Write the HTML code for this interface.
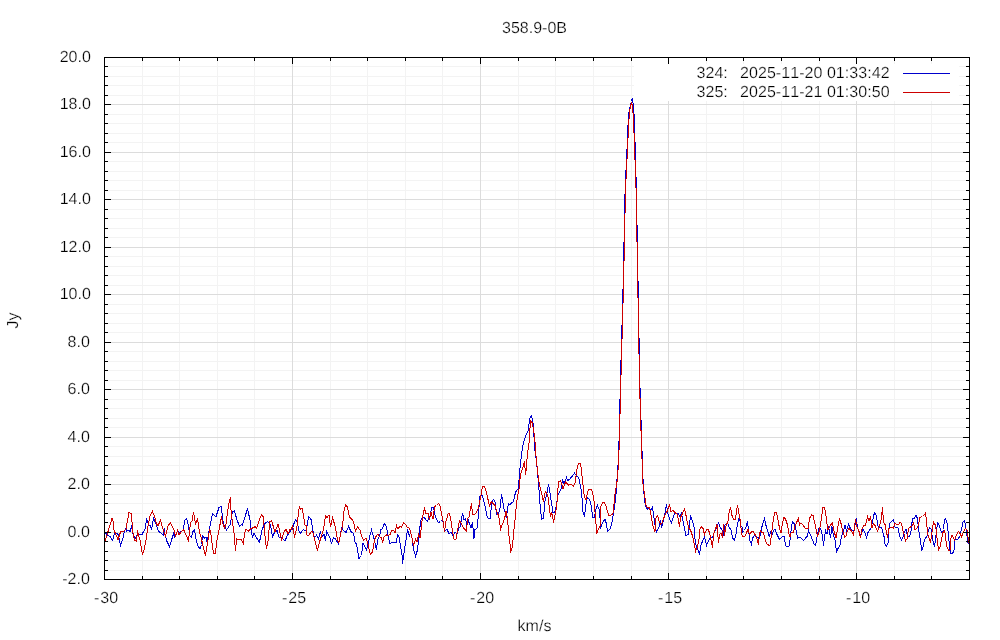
<!DOCTYPE html>
<html><head><meta charset="utf-8"><title>358.9-0B</title>
<style>html,body{margin:0;padding:0;background:#fff;}svg{display:block;will-change:transform;}</style>
</head><body>
<svg width="1000" height="640" viewBox="0 0 1000 640">
<rect width="1000" height="640" fill="#fff"/>
<g shape-rendering="crispEdges">
<rect x="142" y="57" width="1" height="522" fill="#f3f3f3"/>
<rect x="179" y="57" width="1" height="522" fill="#f3f3f3"/>
<rect x="217" y="57" width="1" height="522" fill="#f3f3f3"/>
<rect x="254" y="57" width="1" height="522" fill="#f3f3f3"/>
<rect x="330" y="57" width="1" height="522" fill="#f3f3f3"/>
<rect x="367" y="57" width="1" height="522" fill="#f3f3f3"/>
<rect x="405" y="57" width="1" height="522" fill="#f3f3f3"/>
<rect x="442" y="57" width="1" height="522" fill="#f3f3f3"/>
<rect x="518" y="57" width="1" height="522" fill="#f3f3f3"/>
<rect x="555" y="57" width="1" height="522" fill="#f3f3f3"/>
<rect x="593" y="57" width="1" height="522" fill="#f3f3f3"/>
<rect x="631" y="57" width="1" height="522" fill="#f3f3f3"/>
<rect x="706" y="57" width="1" height="522" fill="#f3f3f3"/>
<rect x="743" y="57" width="1" height="522" fill="#f3f3f3"/>
<rect x="781" y="57" width="1" height="522" fill="#f3f3f3"/>
<rect x="819" y="57" width="1" height="522" fill="#f3f3f3"/>
<rect x="894" y="57" width="1" height="522" fill="#f3f3f3"/>
<rect x="931" y="57" width="1" height="522" fill="#f3f3f3"/>
<rect x="969" y="57" width="1" height="522" fill="#f3f3f3"/>
<rect x="104" y="570" width="865" height="1" fill="#f3f3f3"/>
<rect x="104" y="560" width="865" height="1" fill="#f3f3f3"/>
<rect x="104" y="551" width="865" height="1" fill="#f3f3f3"/>
<rect x="104" y="541" width="865" height="1" fill="#f3f3f3"/>
<rect x="104" y="522" width="865" height="1" fill="#f3f3f3"/>
<rect x="104" y="513" width="865" height="1" fill="#f3f3f3"/>
<rect x="104" y="503" width="865" height="1" fill="#f3f3f3"/>
<rect x="104" y="494" width="865" height="1" fill="#f3f3f3"/>
<rect x="104" y="475" width="865" height="1" fill="#f3f3f3"/>
<rect x="104" y="465" width="865" height="1" fill="#f3f3f3"/>
<rect x="104" y="456" width="865" height="1" fill="#f3f3f3"/>
<rect x="104" y="446" width="865" height="1" fill="#f3f3f3"/>
<rect x="104" y="427" width="865" height="1" fill="#f3f3f3"/>
<rect x="104" y="418" width="865" height="1" fill="#f3f3f3"/>
<rect x="104" y="408" width="865" height="1" fill="#f3f3f3"/>
<rect x="104" y="399" width="865" height="1" fill="#f3f3f3"/>
<rect x="104" y="380" width="865" height="1" fill="#f3f3f3"/>
<rect x="104" y="370" width="865" height="1" fill="#f3f3f3"/>
<rect x="104" y="361" width="865" height="1" fill="#f3f3f3"/>
<rect x="104" y="351" width="865" height="1" fill="#f3f3f3"/>
<rect x="104" y="332" width="865" height="1" fill="#f3f3f3"/>
<rect x="104" y="323" width="865" height="1" fill="#f3f3f3"/>
<rect x="104" y="313" width="865" height="1" fill="#f3f3f3"/>
<rect x="104" y="304" width="865" height="1" fill="#f3f3f3"/>
<rect x="104" y="285" width="865" height="1" fill="#f3f3f3"/>
<rect x="104" y="275" width="865" height="1" fill="#f3f3f3"/>
<rect x="104" y="266" width="865" height="1" fill="#f3f3f3"/>
<rect x="104" y="256" width="865" height="1" fill="#f3f3f3"/>
<rect x="104" y="237" width="865" height="1" fill="#f3f3f3"/>
<rect x="104" y="228" width="865" height="1" fill="#f3f3f3"/>
<rect x="104" y="218" width="865" height="1" fill="#f3f3f3"/>
<rect x="104" y="209" width="865" height="1" fill="#f3f3f3"/>
<rect x="104" y="190" width="865" height="1" fill="#f3f3f3"/>
<rect x="104" y="180" width="865" height="1" fill="#f3f3f3"/>
<rect x="104" y="171" width="865" height="1" fill="#f3f3f3"/>
<rect x="104" y="161" width="865" height="1" fill="#f3f3f3"/>
<rect x="104" y="142" width="865" height="1" fill="#f3f3f3"/>
<rect x="104" y="133" width="865" height="1" fill="#f3f3f3"/>
<rect x="104" y="123" width="865" height="1" fill="#f3f3f3"/>
<rect x="104" y="114" width="865" height="1" fill="#f3f3f3"/>
<rect x="104" y="95" width="865" height="1" fill="#f3f3f3"/>
<rect x="104" y="85" width="865" height="1" fill="#f3f3f3"/>
<rect x="104" y="76" width="865" height="1" fill="#f3f3f3"/>
<rect x="104" y="66" width="865" height="1" fill="#f3f3f3"/>
<rect x="104" y="57" width="1" height="522" fill="#dcdcdc"/>
<rect x="292" y="57" width="1" height="522" fill="#dcdcdc"/>
<rect x="480" y="57" width="1" height="522" fill="#dcdcdc"/>
<rect x="668" y="57" width="1" height="522" fill="#dcdcdc"/>
<rect x="856" y="57" width="1" height="522" fill="#dcdcdc"/>
<rect x="104" y="579" width="865" height="1" fill="#dcdcdc"/>
<rect x="104" y="532" width="865" height="1" fill="#dcdcdc"/>
<rect x="104" y="484" width="865" height="1" fill="#dcdcdc"/>
<rect x="104" y="437" width="865" height="1" fill="#dcdcdc"/>
<rect x="104" y="389" width="865" height="1" fill="#dcdcdc"/>
<rect x="104" y="342" width="865" height="1" fill="#dcdcdc"/>
<rect x="104" y="294" width="865" height="1" fill="#dcdcdc"/>
<rect x="104" y="247" width="865" height="1" fill="#dcdcdc"/>
<rect x="104" y="199" width="865" height="1" fill="#dcdcdc"/>
<rect x="104" y="152" width="865" height="1" fill="#dcdcdc"/>
<rect x="104" y="104" width="865" height="1" fill="#dcdcdc"/>
<rect x="104" y="57" width="865" height="1" fill="#dcdcdc"/>
</g>
<polyline points="105.0,532.5 107.5,535.0 110.0,536.5 112.5,540.5 115.0,532.0 118.5,535.0 120.5,545.5 122.5,540.0 124.5,531.0 126.0,528.5 126.5,531.5 129.0,530.0 130.0,532.0 132.0,525.0 132.5,532.5 135.0,538.5 138.0,534.0 141.0,535.0 142.0,534.5 145.0,529.0 146.5,519.5 149.0,525.0 150.5,526.0 151.5,529.5 153.5,518.5 156.0,523.5 158.5,531.5 160.5,532.5 163.5,535.0 164.5,528.5 165.0,534.0 167.0,541.5 169.5,546.5 172.0,538.5 174.0,532.5 174.5,537.0 177.5,531.0 179.5,532.5 183.5,530.0 184.5,520.5 186.5,518.5 188.0,524.0 189.0,530.0 190.0,536.0 191.5,537.5 192.5,532.0 194.5,529.5 196.5,541.5 198.5,547.0 200.0,549.0 201.5,544.5 202.5,536.0 204.5,538.0 206.0,537.5 207.0,542.0 208.5,534.0 210.5,523.0 212.5,514.0 216.0,516.5 219.0,507.5 221.5,506.5 222.5,519.0 224.0,525.0 226.5,530.0 230.5,524.0 231.5,516.0 232.5,511.5 234.5,511.0 237.0,520.0 239.5,526.0 241.5,524.5 242.5,525.0 245.0,517.0 247.5,508.5 250.0,520.0 251.5,532.0 252.5,537.0 254.0,533.0 256.5,538.0 259.5,542.0 262.0,530.0 264.5,524.0 267.5,521.5 270.0,524.0 271.5,530.0 272.5,537.0 274.5,532.5 277.0,530.5 279.0,537.0 282.0,538.0 285.0,541.0 287.5,535.0 290.0,532.0 291.0,530.0 292.5,529.0 294.0,523.5 295.5,519.5 297.0,521.5 298.0,526.0 299.0,531.0 300.5,533.0 303.5,529.5 306.5,531.5 307.0,526.0 308.5,516.5 311.0,519.5 312.5,528.0 313.5,534.0 314.5,538.0 316.5,535.0 318.5,538.5 320.5,531.5 321.5,537.0 324.0,534.5 325.5,541.0 326.5,531.5 329.0,536.0 330.5,539.0 331.5,544.0 333.5,537.5 335.5,539.0 338.5,544.0 340.0,537.0 341.5,528.0 343.0,530.0 346.0,532.5 348.5,526.5 351.0,531.5 353.5,533.5 355.0,542.0 356.5,544.0 359.0,558.5 361.5,555.5 363.0,543.0 364.5,545.5 366.5,550.0 368.5,542.0 370.0,535.0 371.5,530.0 373.5,537.0 374.5,540.0 376.5,550.0 377.5,540.0 380.0,534.5 380.5,530.0 382.0,529.0 384.5,523.5 386.5,526.5 388.0,536.0 390.0,543.5 391.5,542.5 396.5,542.5 397.5,534.5 399.0,537.0 400.5,545.5 402.0,555.0 402.5,563.5 404.0,553.0 405.5,543.0 407.5,529.5 409.5,537.0 410.5,532.0 412.0,538.0 413.5,549.0 415.5,556.0 417.5,550.0 418.5,541.0 419.5,530.0 421.0,520.0 422.5,516.5 425.0,518.5 427.5,521.5 429.5,517.0 430.5,514.5 431.5,507.0 433.5,507.0 434.5,513.0 436.5,519.5 438.5,522.5 440.5,521.5 442.5,519.5 443.5,525.0 444.5,531.0 447.0,529.0 449.0,534.0 451.0,532.5 453.0,536.0 455.0,532.0 457.0,533.5 458.5,529.0 460.5,526.0 461.5,518.5 462.5,513.5 464.0,519.5 465.5,518.5 467.0,525.0 468.0,519.5 469.5,524.0 471.0,528.0 472.5,522.5 474.0,538.5 475.0,529.5 477.0,528.5 478.0,519.5 479.0,507.0 480.0,496.5 482.0,495.0 484.0,501.5 485.5,508.5 487.0,516.0 488.5,518.5 490.5,518.5 491.5,503.0 493.5,499.5 495.0,501.5 496.5,514.0 498.5,514.5 500.0,508.0 501.5,494.5 502.5,499.5 504.0,509.0 506.0,514.5 506.5,518.0 507.5,509.0 508.5,503.5 510.0,504.5 511.5,503.0 513.5,501.5 514.5,496.0 516.0,491.5 518.0,489.0 519.0,480.5 519.5,472.5 520.5,464.0 521.5,455.0 522.5,447.0 523.5,443.0 525.0,438.0 526.5,434.0 528.0,431.5 529.0,424.0 529.5,418.5 531.5,416.0 532.5,420.0 533.5,426.0 534.0,437.0 534.5,447.0 536.0,458.0 537.0,467.0 537.8,475.0 538.5,486.0 539.5,494.0 540.0,504.0 541.0,514.0 541.5,519.0 543.5,518.0 544.0,512.0 545.0,501.0 547.0,493.0 548.5,484.5 549.5,490.0 551.0,500.0 552.5,509.0 553.0,512.5 554.5,512.5 556.0,507.0 557.0,501.0 558.0,495.0 559.5,492.0 561.0,489.5 562.5,480.5 564.0,483.5 566.5,477.5 567.5,480.5 569.5,479.5 572.0,476.5 574.5,473.0 576.5,476.0 578.5,477.5 579.5,481.0 581.0,489.0 582.5,502.0 583.0,512.0 584.5,517.0 585.5,508.0 586.5,500.0 587.5,497.5 589.5,499.5 591.0,505.0 592.5,515.0 593.0,517.5 594.5,517.5 595.5,510.0 597.5,505.5 599.0,509.0 600.0,518.0 600.5,529.0 602.0,524.0 603.5,521.0 605.0,519.5 606.5,524.0 607.5,531.5 610.0,529.0 611.5,525.0 613.0,516.0 614.5,507.0 615.5,500.0 616.0,494.0 616.6,484.0 617.9,468.0 618.9,446.0 620.4,382.0 623.1,286.0 625.1,190.0 627.9,130.0 628.2,118.0 629.2,110.7 630.5,105.0 631.5,101.5 632.4,98.0 633.1,104.0 633.9,112.0 634.5,123.0 636.4,190.0 638.1,286.0 639.8,382.0 641.8,446.0 642.3,459.0 643.2,484.0 644.5,500.0 645.5,505.5 647.5,509.5 649.5,508.0 651.0,510.0 652.5,507.0 653.5,514.0 654.5,522.0 656.5,532.0 659.0,527.0 660.5,520.0 661.5,528.0 663.0,522.0 665.0,513.0 666.5,504.5 667.5,512.0 669.5,519.0 671.5,523.0 673.5,516.0 675.0,513.5 678.5,513.5 680.0,517.0 681.5,513.0 683.0,521.0 684.5,529.0 686.0,536.0 688.5,534.0 689.5,524.0 690.5,515.5 692.5,521.0 694.0,527.0 695.0,539.0 695.5,543.0 697.0,548.0 699.5,553.5 701.0,545.0 703.0,540.0 704.5,536.5 706.5,545.5 708.5,541.0 710.5,537.0 712.5,537.0 714.5,532.0 716.5,528.0 718.5,523.0 720.5,528.0 722.5,530.5 723.5,536.0 724.5,525.5 727.5,523.0 729.5,528.0 731.0,530.0 732.5,538.0 734.5,540.0 736.0,534.5 737.0,527.0 738.5,519.5 739.5,517.0 740.5,525.0 742.0,527.0 742.5,532.0 744.5,530.5 746.5,525.5 747.5,521.0 748.5,531.0 750.0,541.0 751.5,544.5 752.5,538.0 754.5,535.5 756.5,537.0 758.5,538.0 760.0,536.5 761.0,530.5 762.5,524.5 764.5,518.5 766.0,525.5 767.5,530.5 769.5,537.0 770.5,531.5 771.5,537.0 773.5,530.5 775.0,529.5 777.0,534.5 779.5,539.5 781.5,537.5 784.0,536.0 785.5,545.5 786.5,546.5 789.0,546.5 790.0,540.0 790.5,536.0 791.5,526.0 792.5,521.5 794.5,524.0 796.0,530.0 797.5,538.0 800.0,537.0 803.5,540.5 807.5,536.0 808.5,530.5 810.5,535.0 812.5,540.0 814.0,544.0 815.5,545.5 817.0,537.0 818.5,529.0 820.0,528.0 821.5,531.0 822.5,536.0 823.5,545.5 824.5,537.0 825.5,530.5 827.0,534.0 828.5,526.5 829.5,532.0 830.5,538.0 832.0,526.5 833.5,535.5 835.0,540.0 836.5,551.5 838.0,548.5 840.0,545.0 841.5,536.0 843.0,532.0 845.0,525.5 846.5,530.5 848.5,524.5 850.5,528.5 852.5,530.5 854.0,530.5 855.0,525.0 856.2,518.5 857.5,527.0 859.5,533.5 861.0,534.5 863.0,529.0 865.0,533.0 866.5,537.5 868.0,532.5 870.0,529.5 871.5,527.0 872.5,521.0 874.5,512.5 876.0,515.0 877.5,523.0 878.5,528.0 881.5,527.5 883.5,535.0 884.5,538.0 885.0,544.0 886.5,546.0 888.5,542.0 889.0,529.0 890.0,523.0 892.0,521.0 893.5,519.5 895.0,527.0 898.0,527.5 899.5,536.0 901.5,540.0 902.5,539.5 904.0,533.0 906.0,529.0 907.5,536.5 909.5,536.5 911.0,531.0 912.5,518.5 914.5,518.0 916.0,515.5 917.5,518.5 918.5,529.0 919.5,535.0 920.5,541.5 921.8,550.0 923.0,547.0 924.5,540.0 927.0,536.0 928.0,532.0 929.5,527.5 931.0,529.0 932.0,535.5 933.5,543.0 934.5,547.0 936.0,535.5 937.5,522.5 939.0,525.0 940.5,530.0 942.0,533.0 943.5,529.5 944.5,519.5 945.5,519.0 947.0,523.0 948.5,535.0 949.5,546.0 950.5,553.0 952.5,553.5 954.0,550.5 955.0,540.0 957.5,539.5 960.0,536.0 961.5,529.0 963.0,522.0 964.5,520.5 965.5,525.0 966.5,533.0 968.0,542.5 969.0,543.5" fill="none" stroke="#0000cd" stroke-width="1" stroke-linejoin="miter" shape-rendering="crispEdges"/>
<polyline points="105.0,541.0 108.5,530.0 112.0,518.5 113.0,521.0 114.0,530.0 116.0,535.0 118.0,539.5 120.5,532.0 123.5,531.5 126.0,529.0 129.0,512.5 131.5,514.0 132.5,530.0 134.5,540.5 136.5,541.0 137.5,530.5 138.5,535.0 140.0,540.0 142.5,554.5 144.5,548.0 146.5,537.0 148.0,526.0 150.0,516.0 152.5,511.5 154.5,516.0 156.5,524.0 158.0,525.5 160.5,520.5 162.5,528.0 165.5,536.0 168.0,526.0 170.5,522.5 172.5,527.5 174.5,530.5 175.5,536.5 177.5,530.5 179.0,535.0 181.0,532.0 183.5,529.5 186.0,535.0 188.5,540.5 190.5,523.0 192.0,521.0 193.5,512.5 195.5,524.0 197.5,518.5 199.5,532.0 201.0,537.0 203.0,546.0 205.5,555.5 207.5,543.0 209.5,530.0 210.5,530.5 211.5,540.0 213.5,553.5 215.5,553.5 216.5,543.0 219.0,530.0 220.5,522.0 221.5,516.0 222.5,523.0 224.5,527.5 226.0,524.5 227.5,512.0 229.0,503.0 230.5,497.5 231.0,510.0 232.5,523.0 234.0,533.0 235.5,551.0 236.5,539.0 239.0,539.5 241.0,539.0 243.5,544.0 244.5,533.0 246.0,529.5 248.5,531.0 251.0,528.5 254.0,527.5 255.0,526.5 256.5,528.5 259.0,521.0 261.5,514.5 263.5,517.0 264.5,532.0 266.5,549.0 268.5,538.0 269.5,522.0 271.5,520.5 273.0,525.5 275.0,532.0 278.0,524.0 279.5,530.0 281.5,541.0 283.5,533.0 286.0,529.0 288.0,534.0 290.0,529.5 291.0,530.0 292.5,525.5 293.5,531.0 294.5,537.5 296.0,531.0 297.5,523.0 298.5,512.0 299.5,506.5 300.5,509.5 302.0,508.0 303.5,516.0 305.0,525.0 306.2,525.5 307.0,535.0 308.0,536.0 310.0,533.5 312.0,531.0 313.5,534.5 315.5,543.0 317.5,550.5 319.5,542.0 321.5,536.0 323.5,529.5 325.5,515.5 327.0,517.5 329.0,515.0 330.5,527.0 332.5,517.5 334.5,524.0 336.0,531.0 337.5,540.0 339.0,542.5 340.5,534.0 342.5,526.0 344.0,511.0 345.5,505.0 347.5,507.0 349.5,517.0 351.5,519.0 353.5,521.5 355.5,531.0 357.5,527.0 360.0,530.0 362.0,537.0 363.5,540.5 366.0,538.0 367.5,542.0 369.0,549.0 370.5,554.5 372.5,552.0 374.5,540.0 376.5,535.5 378.0,534.5 380.0,537.0 381.5,537.0 382.5,542.5 384.0,537.0 386.5,535.0 388.0,536.0 390.0,534.5 391.5,531.0 393.5,530.5 395.0,533.0 396.5,525.5 398.0,529.0 400.0,526.0 401.5,527.5 403.5,522.5 405.5,524.5 407.0,527.0 409.0,528.0 410.5,531.5 412.0,538.0 413.5,546.0 415.5,539.0 417.0,542.0 418.5,534.0 420.0,538.0 421.0,530.0 422.5,517.0 423.5,512.5 424.5,508.5 426.0,513.5 428.0,513.5 429.5,520.0 431.0,512.5 433.0,519.0 434.5,506.5 436.5,505.5 438.5,503.5 440.0,506.0 441.5,513.0 443.0,521.0 444.5,531.5 446.0,521.5 448.0,514.0 449.5,513.5 451.0,521.0 452.5,531.0 454.0,539.0 456.0,539.5 457.5,530.0 459.5,520.5 461.0,523.0 462.5,526.5 464.5,529.0 466.5,531.5 467.5,518.5 469.0,517.0 470.5,508.0 471.5,503.5 472.5,514.0 474.5,514.5 476.5,512.5 478.0,509.0 479.5,503.0 481.0,495.0 482.5,486.5 484.5,486.5 486.5,492.5 488.0,499.5 489.5,506.0 491.5,501.5 493.0,503.5 495.0,505.5 496.5,510.5 498.0,514.5 499.5,519.5 500.5,531.0 501.5,526.0 503.5,522.0 505.0,516.5 506.0,511.0 507.5,519.0 509.0,536.0 510.0,544.0 510.5,552.5 512.5,546.0 513.5,534.0 515.0,520.0 516.0,509.0 516.5,505.0 517.5,496.0 519.0,489.0 520.0,479.5 521.0,473.0 522.5,469.0 523.5,465.0 524.5,461.5 525.5,474.5 526.5,467.0 527.0,459.0 527.5,454.0 529.0,443.0 530.0,428.0 530.5,420.5 532.0,422.5 533.5,429.0 534.5,437.0 535.5,447.0 536.0,456.0 537.0,466.0 538.0,475.0 539.5,485.0 541.5,493.0 543.5,501.5 544.5,495.0 545.5,491.5 547.5,494.5 548.5,500.0 549.5,509.0 550.5,517.0 551.5,513.5 552.5,515.5 553.5,522.5 554.5,517.5 556.0,510.0 557.0,502.0 557.5,494.0 558.5,482.0 560.5,480.5 561.5,483.0 563.0,488.5 564.5,485.0 565.5,482.0 568.5,485.0 571.5,484.5 573.5,486.5 575.0,483.0 576.0,476.0 577.0,469.0 578.5,463.5 580.5,463.5 581.5,470.5 582.5,481.0 584.0,494.0 585.5,499.5 586.0,500.0 588.0,491.0 589.5,489.0 591.5,489.0 592.5,492.5 594.0,501.0 595.0,512.0 596.0,524.0 596.5,534.0 598.0,530.0 600.0,526.0 601.0,506.0 602.5,503.0 604.5,502.5 606.0,506.0 607.5,511.5 609.0,515.5 611.5,515.0 613.0,513.5 614.0,504.0 615.0,494.0 616.8,484.0 618.2,468.0 619.2,446.0 620.8,382.0 623.5,286.0 625.5,190.0 628.4,130.0 629.4,112.0 630.5,106.0 631.5,103.0 632.6,106.0 633.3,118.0 633.9,130.0 636.1,190.0 637.8,286.0 639.5,382.0 641.5,446.0 642.0,459.0 643.0,484.0 644.5,494.0 645.5,502.0 646.5,507.0 649.5,507.5 650.5,512.5 652.0,521.0 653.5,528.0 655.0,531.5 656.0,518.0 657.5,515.5 659.0,521.0 660.5,524.5 662.0,523.0 664.0,517.5 666.0,513.0 667.5,511.0 669.5,504.5 671.0,512.0 673.0,510.5 675.0,512.5 677.5,514.5 679.5,527.0 680.5,517.5 682.5,513.5 684.5,509.0 686.0,515.5 687.5,523.0 689.0,528.5 690.5,530.0 692.5,536.0 694.5,545.0 695.5,551.5 697.5,547.0 699.0,539.0 700.0,529.0 701.5,527.0 703.0,528.5 704.5,534.5 706.5,530.0 708.0,529.5 709.5,532.5 711.0,540.0 712.5,547.5 713.5,534.5 715.5,529.0 717.0,524.5 718.5,542.5 719.5,535.0 721.0,533.0 722.5,538.0 723.5,524.5 724.5,535.5 726.0,526.0 728.0,521.0 729.0,513.0 730.5,507.5 732.0,515.5 733.5,519.5 735.5,519.5 736.5,511.0 737.5,505.5 739.0,514.0 740.5,522.0 741.5,534.0 743.0,536.5 745.0,536.0 746.5,532.5 748.0,529.5 749.5,534.5 751.5,532.0 753.0,531.5 755.0,534.5 756.5,537.0 758.5,544.5 759.5,534.0 760.5,530.5 762.0,533.0 763.5,532.5 765.0,539.0 766.5,543.5 768.5,545.0 770.0,545.5 771.0,538.0 772.5,526.0 773.5,518.0 775.0,512.5 776.5,512.5 778.0,520.0 779.5,528.0 781.0,533.0 782.5,523.0 784.0,517.5 785.5,519.0 787.5,525.0 789.0,534.0 790.0,537.0 791.0,533.0 793.5,532.5 795.0,526.0 797.0,521.5 798.5,518.5 799.5,525.0 801.0,523.0 803.0,525.0 805.0,528.0 808.0,529.0 809.5,518.5 811.5,515.0 813.0,515.5 814.5,522.0 816.0,529.0 817.5,537.0 819.5,530.5 821.0,521.5 822.0,514.0 823.0,507.5 824.5,507.5 826.0,516.0 827.0,524.0 828.0,530.0 830.0,526.0 832.5,522.5 833.5,529.0 835.0,534.5 836.0,538.0 837.5,529.0 839.5,518.5 841.0,523.5 842.5,530.5 844.5,537.0 846.0,536.0 847.5,530.5 849.0,528.5 851.5,531.0 853.5,534.5 854.5,527.0 855.5,519.5 857.0,527.0 859.0,531.5 860.5,538.0 862.0,529.0 863.5,526.0 865.5,525.5 866.5,521.0 867.5,516.5 869.0,520.5 870.5,516.5 872.0,528.0 873.5,524.0 875.0,525.5 877.5,531.0 879.5,526.0 881.0,520.0 882.5,507.5 883.5,522.0 885.0,524.5 885.5,527.0 887.5,537.5 889.0,528.5 891.0,527.5 893.5,528.0 895.0,523.0 897.0,525.0 898.5,524.5 900.0,522.5 901.5,523.5 903.0,531.0 904.5,536.0 905.5,541.0 907.0,539.0 908.5,528.5 910.0,527.5 912.0,526.0 913.5,523.0 915.0,530.0 917.0,528.0 918.5,525.0 920.0,517.5 922.5,516.5 924.5,514.5 925.5,513.0 926.5,521.0 927.5,533.0 929.0,538.0 930.5,542.5 932.0,532.0 933.5,522.0 935.0,524.5 936.0,529.0 937.0,538.0 938.5,550.0 940.0,547.0 941.5,539.0 943.0,532.5 944.5,530.5 945.5,536.0 946.5,546.0 948.5,550.0 950.0,550.5 951.0,538.0 952.0,535.0 954.5,540.0 956.0,536.0 958.5,531.5 960.0,533.5 961.5,537.0 963.5,531.5 965.5,528.5 967.0,529.5 968.5,540.0 969.0,543.0" fill="none" stroke="#cd0000" stroke-width="1" stroke-linejoin="miter" shape-rendering="crispEdges"/>
<g shape-rendering="crispEdges">
<rect x="634" y="64" width="325" height="37" fill="#fff"/>
<rect x="903" y="73" width="47" height="1" fill="#0000cd"/>
<rect x="903" y="92" width="47" height="1" fill="#cd0000"/>
<rect x="104" y="57" width="1" height="7" fill="#000"/>
<rect x="104" y="573" width="1" height="7" fill="#000"/>
<rect x="142" y="57" width="1" height="4" fill="#000"/>
<rect x="142" y="576" width="1" height="4" fill="#000"/>
<rect x="179" y="57" width="1" height="4" fill="#000"/>
<rect x="179" y="576" width="1" height="4" fill="#000"/>
<rect x="217" y="57" width="1" height="4" fill="#000"/>
<rect x="217" y="576" width="1" height="4" fill="#000"/>
<rect x="254" y="57" width="1" height="4" fill="#000"/>
<rect x="254" y="576" width="1" height="4" fill="#000"/>
<rect x="292" y="57" width="1" height="7" fill="#000"/>
<rect x="292" y="573" width="1" height="7" fill="#000"/>
<rect x="330" y="57" width="1" height="4" fill="#000"/>
<rect x="330" y="576" width="1" height="4" fill="#000"/>
<rect x="367" y="57" width="1" height="4" fill="#000"/>
<rect x="367" y="576" width="1" height="4" fill="#000"/>
<rect x="405" y="57" width="1" height="4" fill="#000"/>
<rect x="405" y="576" width="1" height="4" fill="#000"/>
<rect x="442" y="57" width="1" height="4" fill="#000"/>
<rect x="442" y="576" width="1" height="4" fill="#000"/>
<rect x="480" y="57" width="1" height="7" fill="#000"/>
<rect x="480" y="573" width="1" height="7" fill="#000"/>
<rect x="518" y="57" width="1" height="4" fill="#000"/>
<rect x="518" y="576" width="1" height="4" fill="#000"/>
<rect x="555" y="57" width="1" height="4" fill="#000"/>
<rect x="555" y="576" width="1" height="4" fill="#000"/>
<rect x="593" y="57" width="1" height="4" fill="#000"/>
<rect x="593" y="576" width="1" height="4" fill="#000"/>
<rect x="631" y="57" width="1" height="4" fill="#000"/>
<rect x="631" y="576" width="1" height="4" fill="#000"/>
<rect x="668" y="57" width="1" height="7" fill="#000"/>
<rect x="668" y="573" width="1" height="7" fill="#000"/>
<rect x="706" y="57" width="1" height="4" fill="#000"/>
<rect x="706" y="576" width="1" height="4" fill="#000"/>
<rect x="743" y="57" width="1" height="4" fill="#000"/>
<rect x="743" y="576" width="1" height="4" fill="#000"/>
<rect x="781" y="57" width="1" height="4" fill="#000"/>
<rect x="781" y="576" width="1" height="4" fill="#000"/>
<rect x="819" y="57" width="1" height="4" fill="#000"/>
<rect x="819" y="576" width="1" height="4" fill="#000"/>
<rect x="856" y="57" width="1" height="7" fill="#000"/>
<rect x="856" y="573" width="1" height="7" fill="#000"/>
<rect x="894" y="57" width="1" height="4" fill="#000"/>
<rect x="894" y="576" width="1" height="4" fill="#000"/>
<rect x="931" y="57" width="1" height="4" fill="#000"/>
<rect x="931" y="576" width="1" height="4" fill="#000"/>
<rect x="969" y="57" width="1" height="4" fill="#000"/>
<rect x="969" y="576" width="1" height="4" fill="#000"/>
<rect x="104" y="579" width="7" height="1" fill="#000"/>
<rect x="963" y="579" width="7" height="1" fill="#000"/>
<rect x="104" y="570" width="4" height="1" fill="#000"/>
<rect x="966" y="570" width="4" height="1" fill="#000"/>
<rect x="104" y="560" width="4" height="1" fill="#000"/>
<rect x="966" y="560" width="4" height="1" fill="#000"/>
<rect x="104" y="551" width="4" height="1" fill="#000"/>
<rect x="966" y="551" width="4" height="1" fill="#000"/>
<rect x="104" y="541" width="4" height="1" fill="#000"/>
<rect x="966" y="541" width="4" height="1" fill="#000"/>
<rect x="104" y="532" width="7" height="1" fill="#000"/>
<rect x="963" y="532" width="7" height="1" fill="#000"/>
<rect x="104" y="522" width="4" height="1" fill="#000"/>
<rect x="966" y="522" width="4" height="1" fill="#000"/>
<rect x="104" y="513" width="4" height="1" fill="#000"/>
<rect x="966" y="513" width="4" height="1" fill="#000"/>
<rect x="104" y="503" width="4" height="1" fill="#000"/>
<rect x="966" y="503" width="4" height="1" fill="#000"/>
<rect x="104" y="494" width="4" height="1" fill="#000"/>
<rect x="966" y="494" width="4" height="1" fill="#000"/>
<rect x="104" y="484" width="7" height="1" fill="#000"/>
<rect x="963" y="484" width="7" height="1" fill="#000"/>
<rect x="104" y="475" width="4" height="1" fill="#000"/>
<rect x="966" y="475" width="4" height="1" fill="#000"/>
<rect x="104" y="465" width="4" height="1" fill="#000"/>
<rect x="966" y="465" width="4" height="1" fill="#000"/>
<rect x="104" y="456" width="4" height="1" fill="#000"/>
<rect x="966" y="456" width="4" height="1" fill="#000"/>
<rect x="104" y="446" width="4" height="1" fill="#000"/>
<rect x="966" y="446" width="4" height="1" fill="#000"/>
<rect x="104" y="437" width="7" height="1" fill="#000"/>
<rect x="963" y="437" width="7" height="1" fill="#000"/>
<rect x="104" y="427" width="4" height="1" fill="#000"/>
<rect x="966" y="427" width="4" height="1" fill="#000"/>
<rect x="104" y="418" width="4" height="1" fill="#000"/>
<rect x="966" y="418" width="4" height="1" fill="#000"/>
<rect x="104" y="408" width="4" height="1" fill="#000"/>
<rect x="966" y="408" width="4" height="1" fill="#000"/>
<rect x="104" y="399" width="4" height="1" fill="#000"/>
<rect x="966" y="399" width="4" height="1" fill="#000"/>
<rect x="104" y="389" width="7" height="1" fill="#000"/>
<rect x="963" y="389" width="7" height="1" fill="#000"/>
<rect x="104" y="380" width="4" height="1" fill="#000"/>
<rect x="966" y="380" width="4" height="1" fill="#000"/>
<rect x="104" y="370" width="4" height="1" fill="#000"/>
<rect x="966" y="370" width="4" height="1" fill="#000"/>
<rect x="104" y="361" width="4" height="1" fill="#000"/>
<rect x="966" y="361" width="4" height="1" fill="#000"/>
<rect x="104" y="351" width="4" height="1" fill="#000"/>
<rect x="966" y="351" width="4" height="1" fill="#000"/>
<rect x="104" y="342" width="7" height="1" fill="#000"/>
<rect x="963" y="342" width="7" height="1" fill="#000"/>
<rect x="104" y="332" width="4" height="1" fill="#000"/>
<rect x="966" y="332" width="4" height="1" fill="#000"/>
<rect x="104" y="323" width="4" height="1" fill="#000"/>
<rect x="966" y="323" width="4" height="1" fill="#000"/>
<rect x="104" y="313" width="4" height="1" fill="#000"/>
<rect x="966" y="313" width="4" height="1" fill="#000"/>
<rect x="104" y="304" width="4" height="1" fill="#000"/>
<rect x="966" y="304" width="4" height="1" fill="#000"/>
<rect x="104" y="294" width="7" height="1" fill="#000"/>
<rect x="963" y="294" width="7" height="1" fill="#000"/>
<rect x="104" y="285" width="4" height="1" fill="#000"/>
<rect x="966" y="285" width="4" height="1" fill="#000"/>
<rect x="104" y="275" width="4" height="1" fill="#000"/>
<rect x="966" y="275" width="4" height="1" fill="#000"/>
<rect x="104" y="266" width="4" height="1" fill="#000"/>
<rect x="966" y="266" width="4" height="1" fill="#000"/>
<rect x="104" y="256" width="4" height="1" fill="#000"/>
<rect x="966" y="256" width="4" height="1" fill="#000"/>
<rect x="104" y="247" width="7" height="1" fill="#000"/>
<rect x="963" y="247" width="7" height="1" fill="#000"/>
<rect x="104" y="237" width="4" height="1" fill="#000"/>
<rect x="966" y="237" width="4" height="1" fill="#000"/>
<rect x="104" y="228" width="4" height="1" fill="#000"/>
<rect x="966" y="228" width="4" height="1" fill="#000"/>
<rect x="104" y="218" width="4" height="1" fill="#000"/>
<rect x="966" y="218" width="4" height="1" fill="#000"/>
<rect x="104" y="209" width="4" height="1" fill="#000"/>
<rect x="966" y="209" width="4" height="1" fill="#000"/>
<rect x="104" y="199" width="7" height="1" fill="#000"/>
<rect x="963" y="199" width="7" height="1" fill="#000"/>
<rect x="104" y="190" width="4" height="1" fill="#000"/>
<rect x="966" y="190" width="4" height="1" fill="#000"/>
<rect x="104" y="180" width="4" height="1" fill="#000"/>
<rect x="966" y="180" width="4" height="1" fill="#000"/>
<rect x="104" y="171" width="4" height="1" fill="#000"/>
<rect x="966" y="171" width="4" height="1" fill="#000"/>
<rect x="104" y="161" width="4" height="1" fill="#000"/>
<rect x="966" y="161" width="4" height="1" fill="#000"/>
<rect x="104" y="152" width="7" height="1" fill="#000"/>
<rect x="963" y="152" width="7" height="1" fill="#000"/>
<rect x="104" y="142" width="4" height="1" fill="#000"/>
<rect x="966" y="142" width="4" height="1" fill="#000"/>
<rect x="104" y="133" width="4" height="1" fill="#000"/>
<rect x="966" y="133" width="4" height="1" fill="#000"/>
<rect x="104" y="123" width="4" height="1" fill="#000"/>
<rect x="966" y="123" width="4" height="1" fill="#000"/>
<rect x="104" y="114" width="4" height="1" fill="#000"/>
<rect x="966" y="114" width="4" height="1" fill="#000"/>
<rect x="104" y="104" width="7" height="1" fill="#000"/>
<rect x="963" y="104" width="7" height="1" fill="#000"/>
<rect x="104" y="95" width="4" height="1" fill="#000"/>
<rect x="966" y="95" width="4" height="1" fill="#000"/>
<rect x="104" y="85" width="4" height="1" fill="#000"/>
<rect x="966" y="85" width="4" height="1" fill="#000"/>
<rect x="104" y="76" width="4" height="1" fill="#000"/>
<rect x="966" y="76" width="4" height="1" fill="#000"/>
<rect x="104" y="66" width="4" height="1" fill="#000"/>
<rect x="966" y="66" width="4" height="1" fill="#000"/>
<rect x="104" y="57" width="7" height="1" fill="#000"/>
<rect x="963" y="57" width="7" height="1" fill="#000"/>
<rect x="104" y="57" width="866" height="1" fill="#000"/>
<rect x="104" y="579" width="866" height="1" fill="#000"/>
<rect x="104" y="57" width="1" height="523" fill="#000"/>
<rect x="969" y="57" width="1" height="523" fill="#000"/>
</g>
<g font-family="'Liberation Sans', Arial, sans-serif" font-size="16" fill="#000" style="font-kerning:none" text-rendering="geometricPrecision" stroke="#fff" stroke-width="0.25">
<text x="89.8" y="584" text-anchor="end">-2.0</text>
<text x="89.8" y="537" text-anchor="end">0.0</text>
<text x="89.8" y="489" text-anchor="end">2.0</text>
<text x="89.8" y="442" text-anchor="end">4.0</text>
<text x="89.8" y="394" text-anchor="end">6.0</text>
<text x="89.8" y="347" text-anchor="end">8.0</text>
<text x="90.8" y="299" text-anchor="end">10.0</text>
<text x="90.8" y="252" text-anchor="end">12.0</text>
<text x="90.8" y="204" text-anchor="end">14.0</text>
<text x="90.8" y="157" text-anchor="end">16.0</text>
<text x="90.8" y="109" text-anchor="end">18.0</text>
<text x="90.8" y="62" text-anchor="end">20.0</text>
<text x="106.1" y="603" text-anchor="middle">-<tspan dx="0.9">30</tspan></text>
<text x="294.1" y="603" text-anchor="middle">-<tspan dx="0.9">25</tspan></text>
<text x="482.1" y="603" text-anchor="middle">-<tspan dx="0.9">20</tspan></text>
<text x="670.1" y="603" text-anchor="middle">-<tspan dx="0.9">15</tspan></text>
<text x="858.1" y="603" text-anchor="middle">-<tspan dx="0.9">10</tspan></text>
<text x="534.5" y="33" text-anchor="middle">358.9-0B</text>
<text x="534.5" y="631" text-anchor="middle">km/s</text>
<text transform="translate(18,320.5) rotate(-90)" text-anchor="middle">Jy</text>
<text x="889.6" y="77.7" text-anchor="end" xml:space="preserve">324:   <tspan dx="-1" letter-spacing="0.05">2025-11-20 01:33:42</tspan></text>
<text x="889.6" y="96.7" text-anchor="end" xml:space="preserve">325:   <tspan dx="-1" letter-spacing="0.05">2025-11-21 01:30:50</tspan></text>
</g>
</svg>
</body></html>
